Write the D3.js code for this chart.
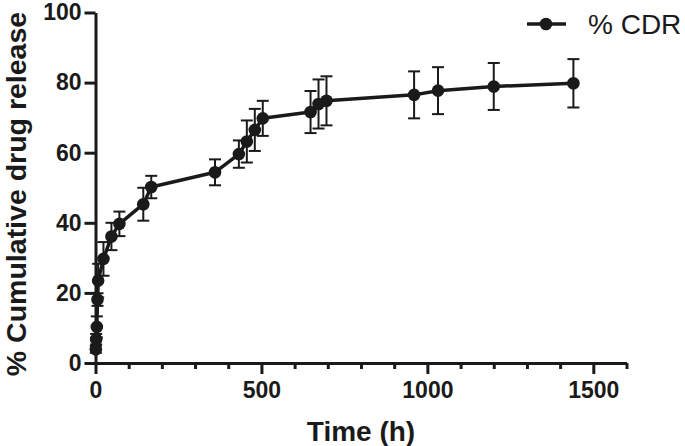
<!DOCTYPE html>
<html>
<head>
<meta charset="utf-8">
<script src="https://cdn.jsdelivr.net/npm/d3@7"></script>
<style>
  html, body { margin: 0; padding: 0; background: #fff; }
  svg { display: block; }
  text { font-family: "Liberation Sans", Arial, sans-serif; }
</style>
</head>
<body>
<svg id="chart" width="685" height="446"></svg>
<script>
// Data (time in hours, % cumulative drug release, error)
const times  = [1, 2, 4, 6, 8, 24, 48, 72, 144, 168, 360, 432, 456, 480, 504, 648, 672, 696, 960, 1032, 1200, 1440];
const values = [3.9, 6.8, 10.3, 18.1, 23.5, 29.7, 36.1, 39.7, 45.3, 50.2, 54.4, 59.6, 63.2, 66.5, 69.8, 71.6, 73.9, 74.8, 76.5, 77.7, 78.9, 79.8];
const errors = [1.0, 1.5, 3.0, 1.8, 4.8, 4.8, 3.9, 3.5, 4.7, 3.2, 3.7, 3.9, 6.0, 6.0, 5.0, 6.0, 7.0, 7.0, 6.7, 6.7, 6.7, 6.9];
const xTickValues = [0, 500, 1000, 1500];
const xMinorTicks = [100, 200, 300, 400, 600, 700, 800, 900, 1100, 1200, 1300, 1400, 1600];
const yTickValues = [0, 20, 40, 60, 80, 100];
const seriesName = "% CDR";
const xTitle = "Time (h)";
const yTitle = "% Cumulative drug release";

const ink = "#1a1a1a";
const svg = d3.select("#chart");

const x = d3.scaleLinear().domain([0, 1600]).range([95.5, 626.5]);
const y = d3.scaleLinear().domain([0, 100]).range([363, 12.5]);

const data = times.map((t, i) => ({ t, v: values[i], e: errors[i] }));

// X axis (major ticks)
const gx = svg.append("g").attr("transform", `translate(0,${y(0)})`)
  .call(d3.axisBottom(x).tickValues(xTickValues).tickSize(11).tickSizeOuter(0).tickPadding(8).tickFormat(d3.format("d")));
gx.select(".domain").attr("stroke", ink).attr("stroke-width", 3);
gx.selectAll(".tick line").attr("stroke", ink).attr("stroke-width", 3);
gx.selectAll(".tick text").attr("fill", ink).attr("font-size", 23).attr("font-weight", "bold")
  .attr("font-family", "'Liberation Sans', Arial, sans-serif");
// X minor ticks
const gxm = svg.append("g").attr("transform", `translate(0,${y(0)})`)
  .call(d3.axisBottom(x).tickValues(xMinorTicks).tickSize(6).tickFormat(""));
gxm.select(".domain").remove();
gxm.selectAll(".tick line").attr("stroke", ink).attr("stroke-width", 3);

// Y axis
const gy = svg.append("g").attr("transform", `translate(${x(0)},0)`)
  .call(d3.axisLeft(y).tickValues(yTickValues).tickSize(11).tickSizeOuter(0).tickPadding(3).tickFormat(d3.format("d")));
gy.select(".domain").attr("stroke", ink).attr("stroke-width", 3);
gy.selectAll(".tick line").attr("stroke", ink).attr("stroke-width", 3);
gy.selectAll(".tick text").attr("fill", ink).attr("font-size", 23).attr("font-weight", "bold")
  .attr("font-family", "'Liberation Sans', Arial, sans-serif");

// Axis titles
svg.append("text").attr("x", 361).attr("y", 441).attr("text-anchor", "middle")
  .attr("font-size", 28).attr("font-weight", "bold").attr("fill", ink).text(xTitle);
svg.append("text").attr("transform", "translate(26,194) rotate(-90)").attr("text-anchor", "middle")
  .attr("font-size", 28.5).attr("font-weight", "bold").attr("fill", ink).text(yTitle);

// Error bars
const eb = svg.append("g").attr("stroke", ink).attr("stroke-width", 2).attr("fill", "none");
data.forEach(d => {
  const cx = x(d.t);
  eb.append("line").attr("x1", cx).attr("x2", cx).attr("y1", y(d.v - d.e)).attr("y2", y(d.v + d.e));
  eb.append("line").attr("x1", cx - 6).attr("x2", cx + 6).attr("y1", y(d.v - d.e)).attr("y2", y(d.v - d.e));
  eb.append("line").attr("x1", cx - 6).attr("x2", cx + 6).attr("y1", y(d.v + d.e)).attr("y2", y(d.v + d.e));
});

// Line
const line = d3.line().x(d => x(d.t)).y(d => y(d.v));
svg.append("path").datum(data).attr("d", line).attr("fill", "none")
  .attr("stroke", ink).attr("stroke-width", 3.5).attr("stroke-linejoin", "round");

// Points
svg.append("g").selectAll("circle").data(data).join("circle")
  .attr("cx", d => x(d.t)).attr("cy", d => y(d.v)).attr("r", 6.3).attr("fill", ink);

// Legend
const lg = svg.append("g");
lg.append("line").attr("x1", 527).attr("x2", 566).attr("y1", 24).attr("y2", 24)
  .attr("stroke", ink).attr("stroke-width", 3.5);
lg.append("circle").attr("cx", 546).attr("cy", 24).attr("r", 6.3).attr("fill", ink);
lg.append("text").attr("x", 588).attr("y", 33.5).attr("font-size", 28).attr("fill", ink).text(seriesName);
</script>
</body>
</html>
